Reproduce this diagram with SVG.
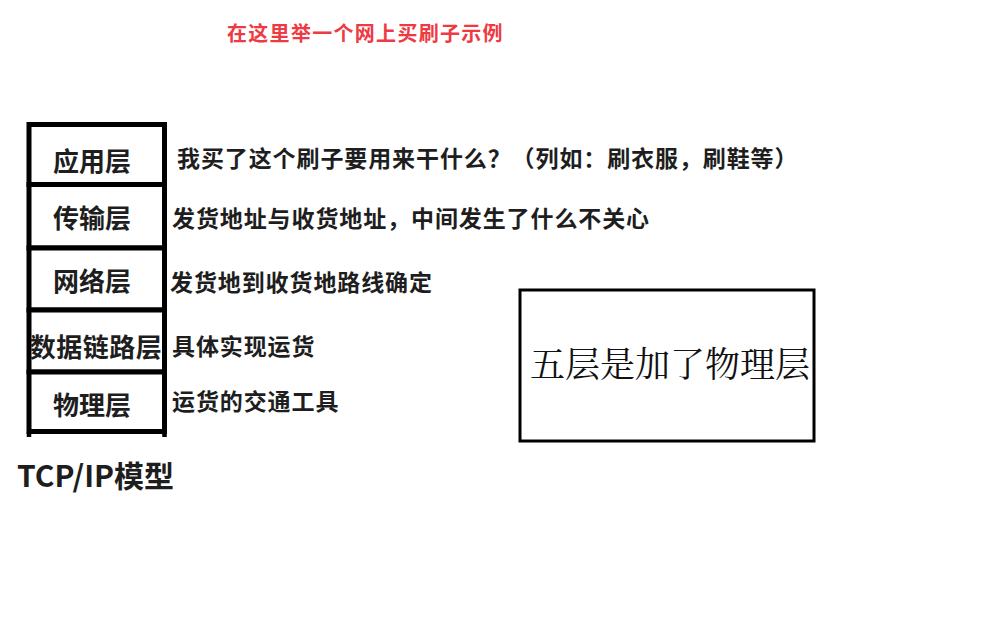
<svg xmlns="http://www.w3.org/2000/svg" width="996" height="631" viewBox="0 0 996 631">
<style>
.layer{fill:#fff;stroke:#000;stroke-width:5}
.lbl{font-family:"Noto Sans CJK SC","Noto Sans",sans-serif;font-weight:bold;font-size:26px;fill:#1e1e1e;text-anchor:middle}
.desc{font-family:"Noto Sans CJK SC","Noto Sans",sans-serif;font-weight:bold;font-size:23px;letter-spacing:0.9px;fill:#1e1e1e}
.title{font-family:"Noto Sans CJK SC","Noto Sans",sans-serif;font-weight:bold;font-size:20px;letter-spacing:1.3px;fill:#ee3a43}
.big{font-family:"Noto Serif CJK SC","Noto Sans CJK SC",serif;font-size:35px;fill:#111;text-anchor:middle}
.cap{font-family:"Noto Sans CJK SC","Noto Sans",sans-serif;font-weight:bold;font-size:30px;fill:#1e1e1e}
</style>
<rect width="996" height="631" fill="#fff"/>
<text class="title" x="227" y="41">在这里举一个网上买刷子示例</text>
<g id="app">
<rect class="layer" x="29" y="124.5" width="135.5" height="60"/>
<text class="lbl" x="92" y="171">应用层</text>
</g>
<g id="transport">
<rect class="layer" x="29" y="184.5" width="135.5" height="63.5"/>
<text class="lbl" x="92" y="228">传输层</text>
</g>
<g id="network">
<rect class="layer" x="29" y="248" width="135.5" height="62"/>
<text class="lbl" x="92" y="291">网络层</text>
</g>
<g id="datalink">
<rect class="layer" x="29" y="310" width="135.5" height="62"/>
<text class="lbl" x="96" y="357" letter-spacing="0.5">数据链路层</text>
</g>
<g id="physical">
<rect class="layer" x="29" y="372" width="135.5" height="59.5"/>
<path d="M29 431.5V437M164.5 431.5V437" stroke="#000" stroke-width="4.5" fill="none"/>
<text class="lbl" x="92" y="415">物理层</text>
</g>
<g id="descriptions">
<text class="desc" x="177" y="167">我买了这个刷子要用来干什么？（列如：刷衣服，刷鞋等）</text>
<text class="desc" x="172" y="227">发货地址与收货地址，中间发生了什么不关心</text>
<text class="desc" x="170" y="291">发货地到收货地路线确定</text>
<text class="desc" x="172" y="355">具体实现运货</text>
<text class="desc" x="172" y="410">运货的交通工具</text>
</g>
<text class="cap" x="17" y="487">TCP/IP模型</text>
<g id="note">
<rect x="520" y="290" width="294" height="151" fill="#fff" stroke="#000" stroke-width="3"/>
<text class="big" x="670" y="377">五层是加了物理层</text>
</g>
<g id="connectors"/>
</svg>
